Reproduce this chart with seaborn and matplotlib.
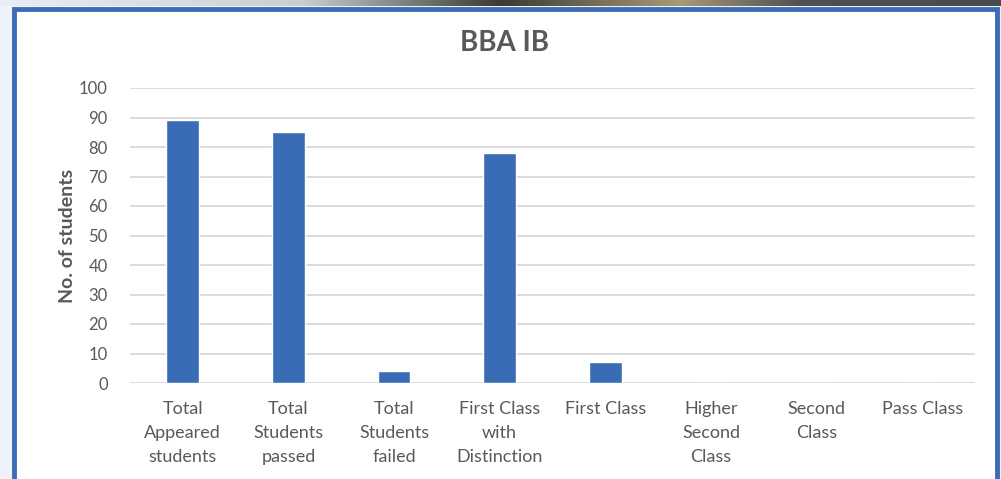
import matplotlib
matplotlib.use("Agg")

import matplotlib.pyplot as plt
import numpy as np
import pandas as pd
import seaborn as sns
from matplotlib.colors import LinearSegmentedColormap
from matplotlib.patches import Rectangle

# Data
categories = [
    "Total\nAppeared\nstudents",
    "Total\nStudents\npassed",
    "Total\nStudents\nfailed",
    "First Class\nwith\nDistinction",
    "First Class",
    "Higher\nSecond\nClass",
    "Second\nClass",
    "Pass Class",
]
students = [89, 85, 4, 78, 7, 0, 0, 0]
y_ticks = list(range(0, 101, 10))

BAR_COLOR = "#3a6cb5"
BORDER_COLOR = "#3d6cb6"
TEXT_COLOR = "#595959"
GRID_COLOR = "#d9d9d9"

sns.set_theme(style="white")
plt.rcParams["font.family"] = ["Lato", "DejaVu Sans"]

W, H = 1001, 479
fig = plt.figure(figsize=(W / 100, H / 100), dpi=100)
fig.patch.set_facecolor("#edf3f9")

# slide frame: white panel with blue border (bottom edge runs off the image)
fig.patches.append(Rectangle((14 / W, -0.05), (997 - 14) / W, 1.05 - 8.5 / H,
                             transform=fig.transFigure, facecolor="white",
                             edgecolor=BORDER_COLOR, linewidth=3.5, zorder=-1))

# dark gradient strip at the very top
strip = fig.add_axes([0, 1 - 6 / H, 1, 6 / H])
cmap = LinearSegmentedColormap.from_list(
    "strip", [(0, "#e8eef4"), (0.3, "#c8d0d4"), (0.5, "#3a3a30"),
              (0.68, "#a89a78"), (0.8, "#505050"), (1, "#4a4a4a")])
strip.imshow(np.linspace(0, 1, 256)[None, :], aspect="auto", cmap=cmap)
strip.set_axis_off()

ax = fig.add_axes([130 / W, 1 - 383 / H, (975 - 130) / W, (383 - 88) / H])
df = pd.DataFrame({"category": categories, "students": students})
sns.barplot(data=df, x="category", y="students", color=BAR_COLOR,
            width=0.31, saturation=1, ax=ax, zorder=3)

ax.set_ylim(0, 100)
ax.set_yticks(y_ticks)
ax.yaxis.grid(True, color=GRID_COLOR, linewidth=1.3, zorder=0)
ax.set_axisbelow(True)
for s in ax.spines.values():
    s.set_visible(False)
ax.set_facecolor("none")

ax.tick_params(axis="x", length=0, pad=13, labelsize=13, labelcolor=TEXT_COLOR)
ax.tick_params(axis="y", length=0, pad=16, labelsize=12, labelcolor=TEXT_COLOR)
for lbl in ax.get_xticklabels():
    lbl.set_linespacing(1.62)
    lbl.set_verticalalignment("top")

ax.set_xlabel("")
ax.set_ylabel("No. of students", fontsize=14, fontweight="bold",
              color=TEXT_COLOR, labelpad=2)
fig.text(505 / W, 1 - 43 / H, "BBA IB", fontsize=20, fontweight="bold",
         color=TEXT_COLOR, ha="center", va="center")

fig.savefig("out.png", dpi=100)
plt.close(fig)
